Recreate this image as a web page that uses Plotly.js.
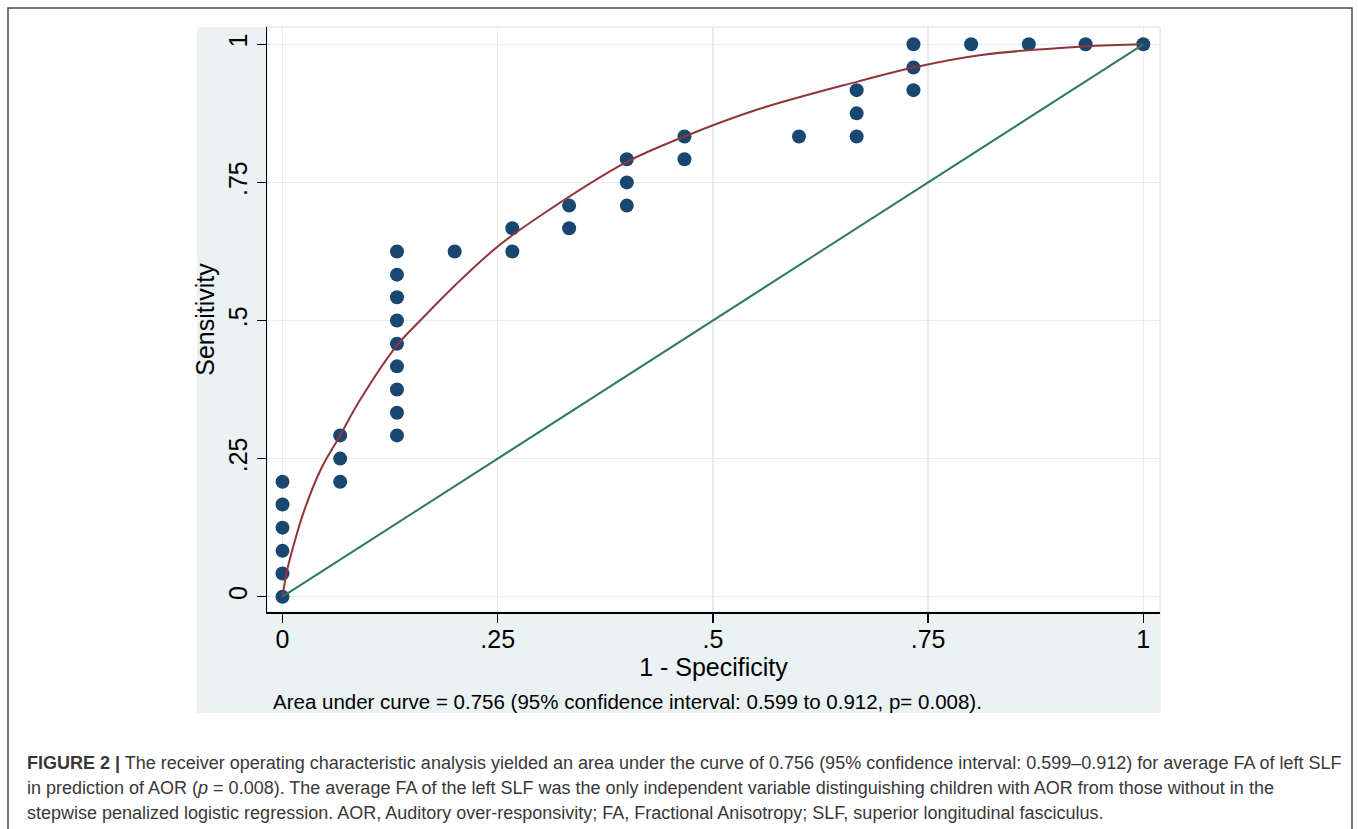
<!DOCTYPE html>
<html>
<head>
<meta charset="utf-8">
<script src="https://cdn.plot.ly/plotly-3.0.1.min.js"></script>
<style>
html,body{margin:0;padding:0;background:#fff;}
#chart{width:1358px;height:829px;}
</style>
</head>
<body>
<div id="chart"></div>
<script>
// Observed ROC points (1 - specificity, sensitivity)
const fpr = [0,0,0,0,0,0,
  0.067,0.067,0.067,
  0.133,0.133,0.133,0.133,0.133,0.133,0.133,0.133,0.133,
  0.2,
  0.267,0.267,
  0.333,0.333,
  0.4,0.4,0.4,
  0.467,0.467,
  0.6,
  0.667,0.667,0.667,
  0.733,0.733,0.733,
  0.8,0.867,0.933,1];
const sens = [0,0.042,0.083,0.125,0.167,0.208,
  0.208,0.25,0.292,
  0.292,0.333,0.375,0.417,0.458,0.5,0.542,0.583,0.625,
  0.625,
  0.625,0.667,
  0.667,0.708,
  0.708,0.75,0.792,
  0.792,0.833,
  0.833,
  0.833,0.875,0.917,
  0.917,0.958,1,
  1,1,1,1];
// Fitted smooth ROC curve
const fitX = [0,0.005,0.012,0.025,0.045,0.067,0.09,0.133,0.16,0.2,0.25,0.3,0.4,0.467,0.55,0.667,0.733,0.814,0.93,1];
const fitY = [0,0.045,0.088,0.155,0.232,0.292,0.356,0.455,0.5,0.563,0.634,0.69,0.787,0.833,0.881,0.932,0.958,0.981,0.996,1];
// Reference line
const refX = [0,1];
const refY = [0,1];
const xTicks = [0,0.25,0.5,0.75,1];
const xTickText = ['0','.25','.5','.75','1'];
const yTicks = [0,0.25,0.5,0.75,1];
const yTickText = ['0','.25','.5','.75','1'];

const L=267, T=27, W=893, H=585;
const px = v => (v - L)/W;
const py = v => (T + H - v)/H;

const FONT = 'Liberation Sans, Arial, Helvetica, sans-serif';
const GRID = '#e3edf0';

const traces = [
  {x: fpr, y: sens, mode:'markers', type:'scatter',
   marker:{color:'#1a476f', size:14}, hoverinfo:'x+y', showlegend:false},
  {x: fitX, y: fitY, mode:'lines', type:'scatter',
   line:{color:'#90353b', width:2, shape:'spline', smoothing:1}, showlegend:false},
  {x: refX, y: refY, mode:'lines', type:'scatter',
   line:{color:'#2d7a68', width:2}, showlegend:false}
];

const layout = {
  width:1358, height:829,
  margin:{l:L, r:1358-L-W, t:T, b:829-T-H, pad:0},
  paper_bgcolor:'#ffffff',
  plot_bgcolor:'rgba(0,0,0,0)',
  font:{family:FONT, color:'#000'},
  xaxis:{
    range:[-0.018,1.0194], tickvals:xTicks, ticktext:xTickText,
    ticks:'outside', ticklen:9, tickwidth:1.3, tickcolor:'#000',
    showline:true, linecolor:'#000', linewidth:1.5,
    showgrid:true, gridcolor:GRID, gridwidth:1.5, zeroline:false,
    tickfont:{size:25, family:FONT, color:'#000'}, ticklabelstandoff:-5,
    title:{text:'1 - Specificity', font:{size:25, family:FONT, color:'#000'}, standoff:7},
    automargin:false, fixedrange:true
  },
  yaxis:{
    range:[-0.0277,1.0313], tickvals:yTicks, ticktext:yTickText, tickangle:-90,
    ticks:'outside', ticklen:9, tickwidth:1.3, tickcolor:'#000',
    showline:true, linecolor:'#000', linewidth:1.5,
    showgrid:true, gridcolor:GRID, gridwidth:1.5, zeroline:false,
    tickfont:{size:25, family:FONT, color:'#000'},
    title:{text:'Sensitivity', font:{size:25, family:FONT, color:'#000'}, standoff:2},
    automargin:false, fixedrange:true
  },
  shapes:[
    {type:'rect', xref:'paper', yref:'paper', x0:px(8), x1:px(1352), y0:py(845), y1:py(8),
     line:{color:'#4a4a4a', width:1.5}, fillcolor:'rgba(0,0,0,0)', layer:'below'},
    {type:'rect', xref:'paper', yref:'paper', x0:px(197), x1:px(1161), y0:py(713), y1:py(27),
     line:{width:0}, fillcolor:'#eaf2f3', layer:'below'},
    {type:'rect', xref:'paper', yref:'paper', x0:0, x1:px(1160), y0:0, y1:1,
     line:{color:GRID, width:1.5}, fillcolor:'#ffffff', layer:'below'}
  ],
  annotations:[
    {xref:'paper', yref:'paper', x:px(271), y:py(702), xanchor:'left', yanchor:'middle', showarrow:false,
     text:'Area under curve = 0.756 (95% confidence interval: 0.599 to 0.912, p= 0.008).',
     font:{size:20.5, family:FONT, color:'#000'}},
    {xref:'paper', yref:'paper', x:px(25), y:py(763), xanchor:'left', yanchor:'middle', showarrow:false,
     text:'<b>FIGURE 2 |</b> The receiver operating characteristic analysis yielded an area under the curve of 0.756 (95% confidence interval: 0.599–0.912) for average FA of left SLF',
     font:{size:18, family:FONT, color:'#383838'}},
    {xref:'paper', yref:'paper', x:px(25), y:py(788), xanchor:'left', yanchor:'middle', showarrow:false,
     text:'in prediction of AOR (<i>p</i> = 0.008). The average FA of the left SLF was the only independent variable distinguishing children with AOR from those without in the',
     font:{size:18, family:FONT, color:'#383838'}},
    {xref:'paper', yref:'paper', x:px(25), y:py(813), xanchor:'left', yanchor:'middle', showarrow:false,
     text:'stepwise penalized logistic regression. AOR, Auditory over-responsivity; FA, Fractional Anisotropy; SLF, superior longitudinal fasciculus.',
     font:{size:18, family:FONT, color:'#383838'}}
  ]
};

Plotly.newPlot('chart', traces, layout, {displayModeBar:false, staticPlot:true});
</script>
</body>
</html>
